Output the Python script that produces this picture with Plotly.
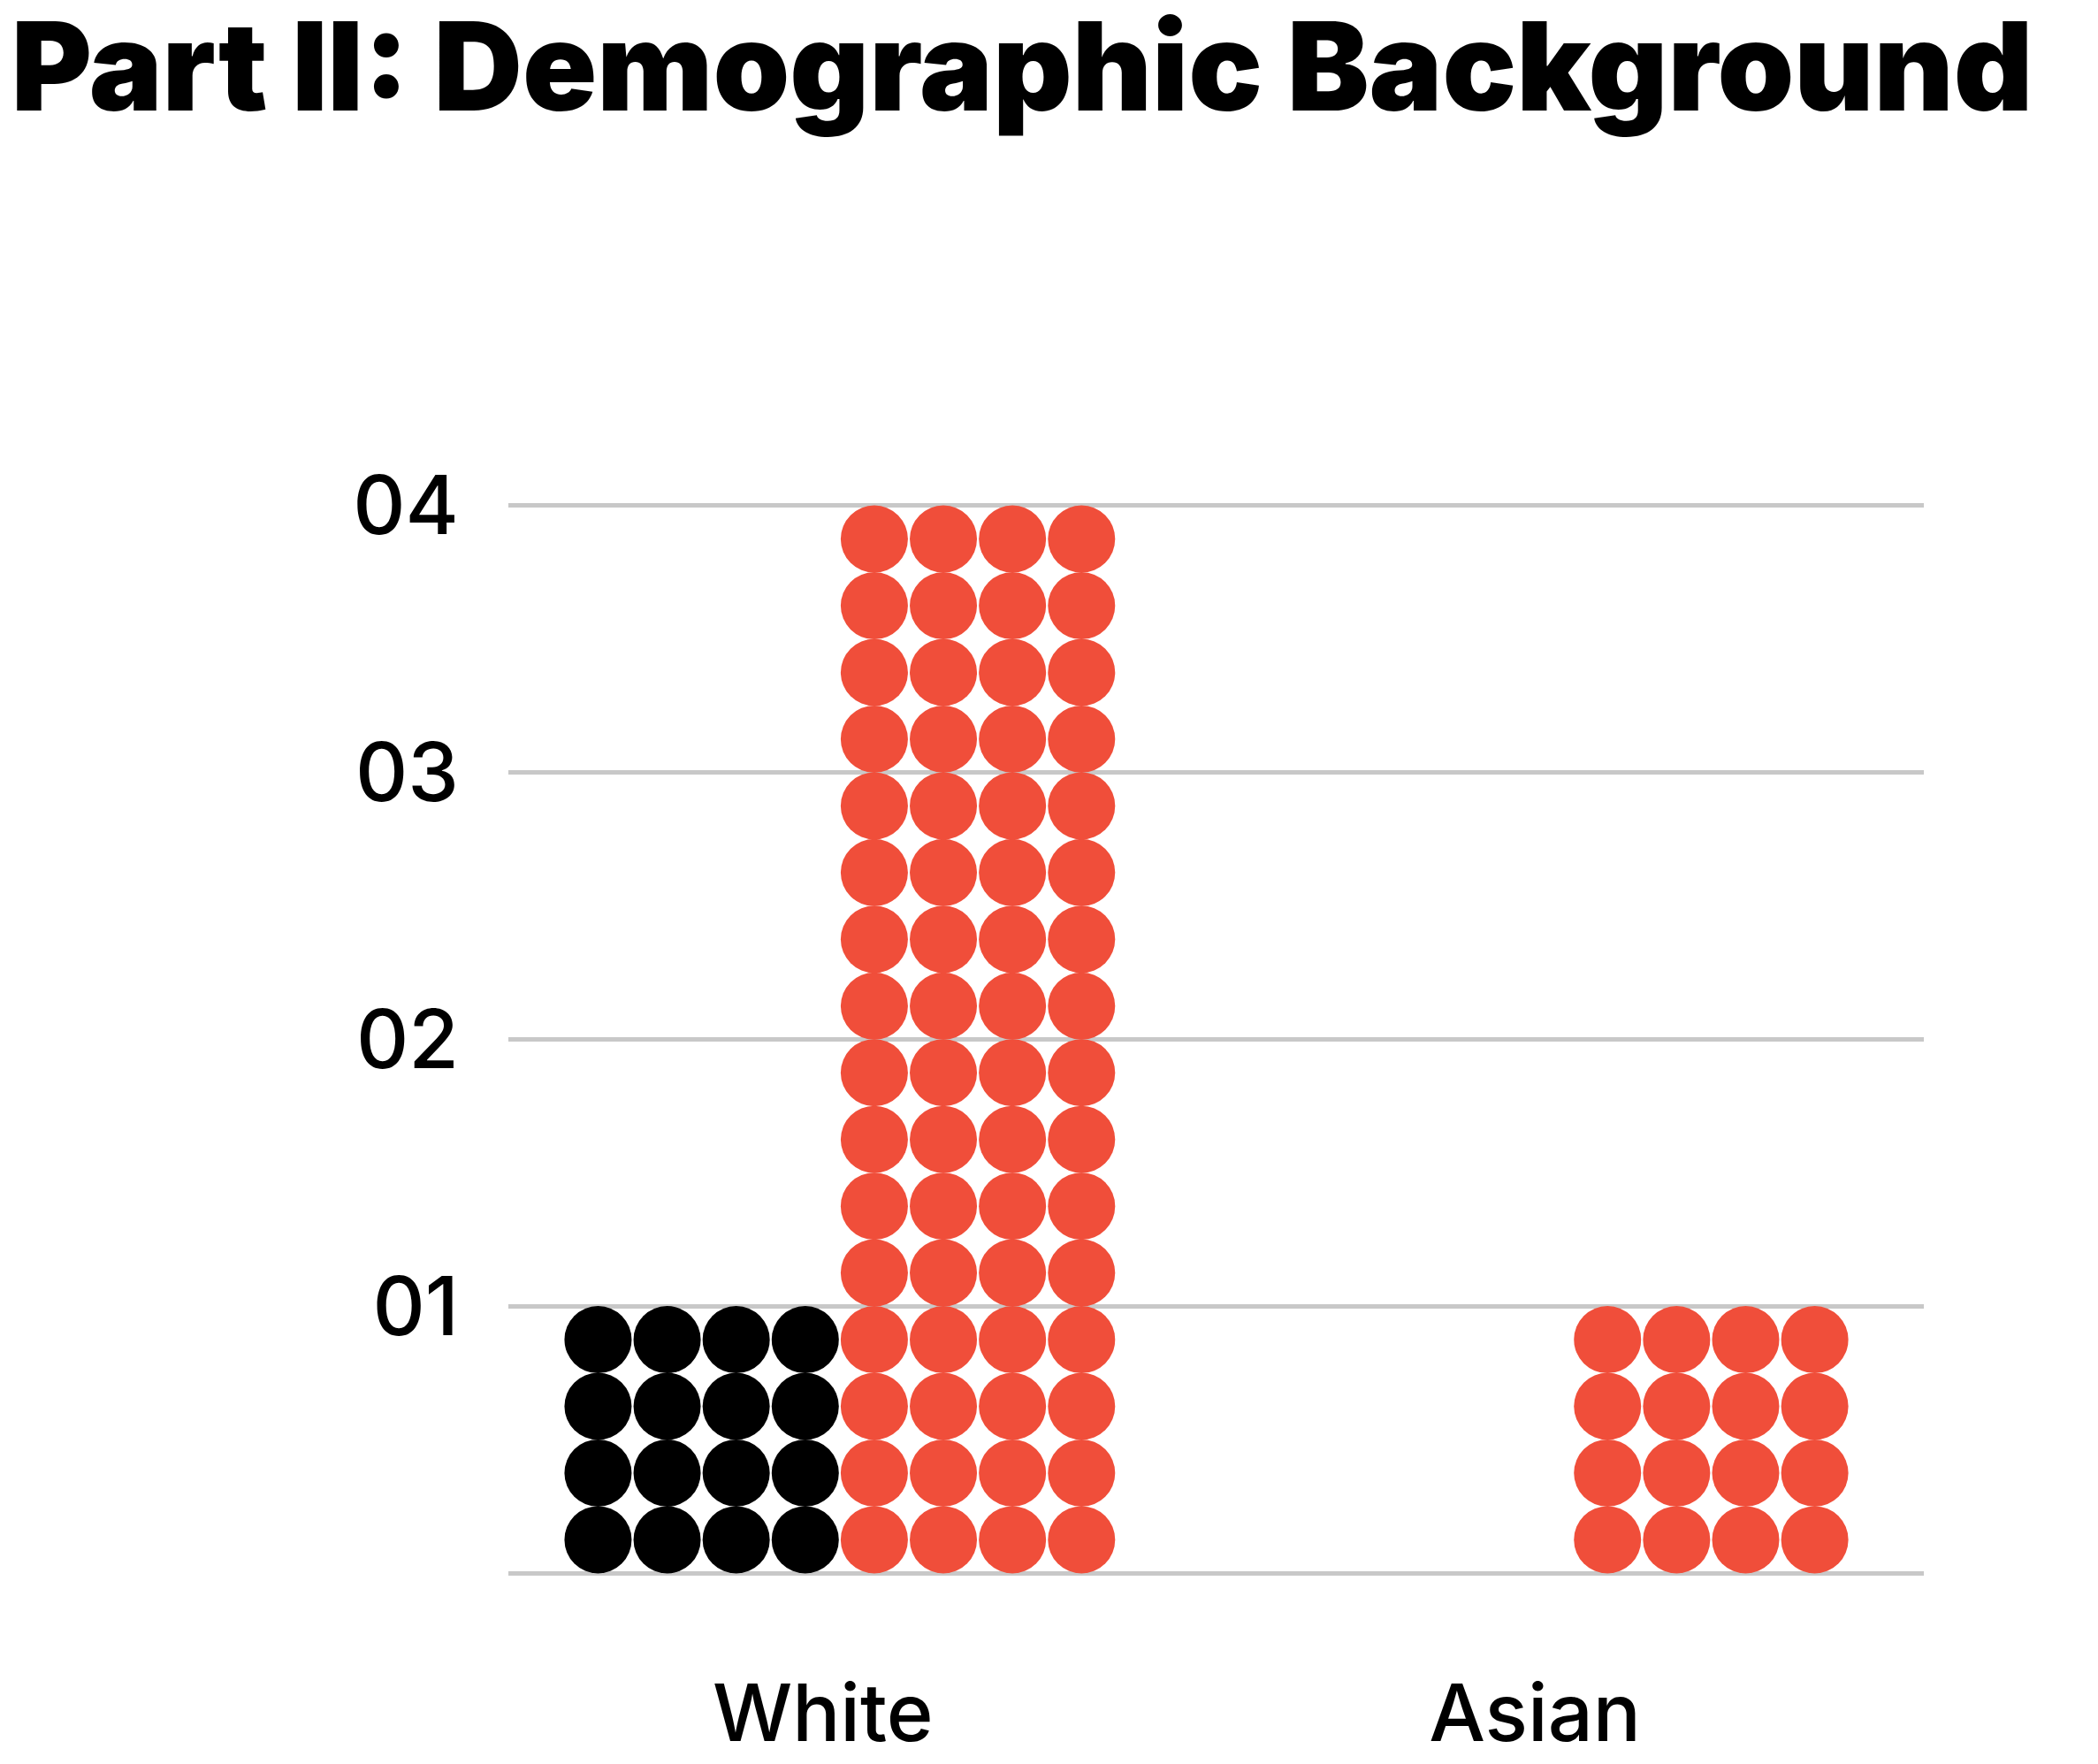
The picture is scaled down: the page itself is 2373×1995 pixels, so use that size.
import plotly.graph_objects as go

# ---- data ----
categories = ["White", "Asian"]
black_values = [1, 0]   # black dots series
red_values = [4, 1]     # red dots series
y_tick_values = [0, 1, 2, 3, 4]
y_tick_labels = ["", "01", "02", "03", "04"]
title_text = "Part II: Demographic Background"

# ---- layout constants ----
ROWS_PER_UNIT = 4
COLS = 4
GROUP_OFFSET = 0.1884
COL_STEP = 0.0942
LABEL_POS = [-0.023, 0.948]
BLACK = "#000000"
RED = "#f04e3a"


def dots(values, offset):
    xs, ys = [], []
    for i, v in enumerate(values):
        n_rows = int(round(v * ROWS_PER_UNIT))
        for r in range(n_rows):
            for c in range(COLS):
                xs.append(i + offset + (c - (COLS - 1) / 2) * COL_STEP)
                ys.append((r + 0.5) / ROWS_PER_UNIT)
    return xs, ys


fig = go.Figure()
for vals, off, col in [(black_values, -GROUP_OFFSET, BLACK), (red_values, GROUP_OFFSET, RED)]:
    xs, ys = dots(vals, off)
    fig.add_trace(go.Scatter(
        x=xs, y=ys, mode="markers",
        marker=dict(size=76, color=col, line=dict(width=0)),
        cliponaxis=False, showlegend=False, hoverinfo="skip"))

fig.update_layout(
    width=2373, height=1995, autosize=False,
    margin=dict(l=567, r=205, t=560, b=177),
    paper_bgcolor="white", plot_bgcolor="white",
    title=dict(text=title_text, x=0.002, xref="container", xanchor="left",
               y=0.99, yref="container", yanchor="top", pad=dict(t=0, l=0),
               font=dict(family="Inter", size=139, color="black", weight=900)),
    xaxis=dict(range=[-0.452, 1.4785], tickvals=LABEL_POS, ticktext=categories,
               showgrid=False, zeroline=False, showline=False, ticks="",
               tickfont=dict(family="Inter", size=90, color="black", weight=500),
               ticklabelstandoff=95),
    yaxis=dict(range=[-0.0128, 4.0128], tickvals=y_tick_values, ticktext=y_tick_labels,
               showgrid=True, gridcolor="#c8c8c8", gridwidth=5,
               zeroline=False, showline=False, ticks="",
               tickfont=dict(family="Inter", size=92, color="black", weight=500),
               ticklabelstandoff=55),
)

fig.write_html("out.html")
